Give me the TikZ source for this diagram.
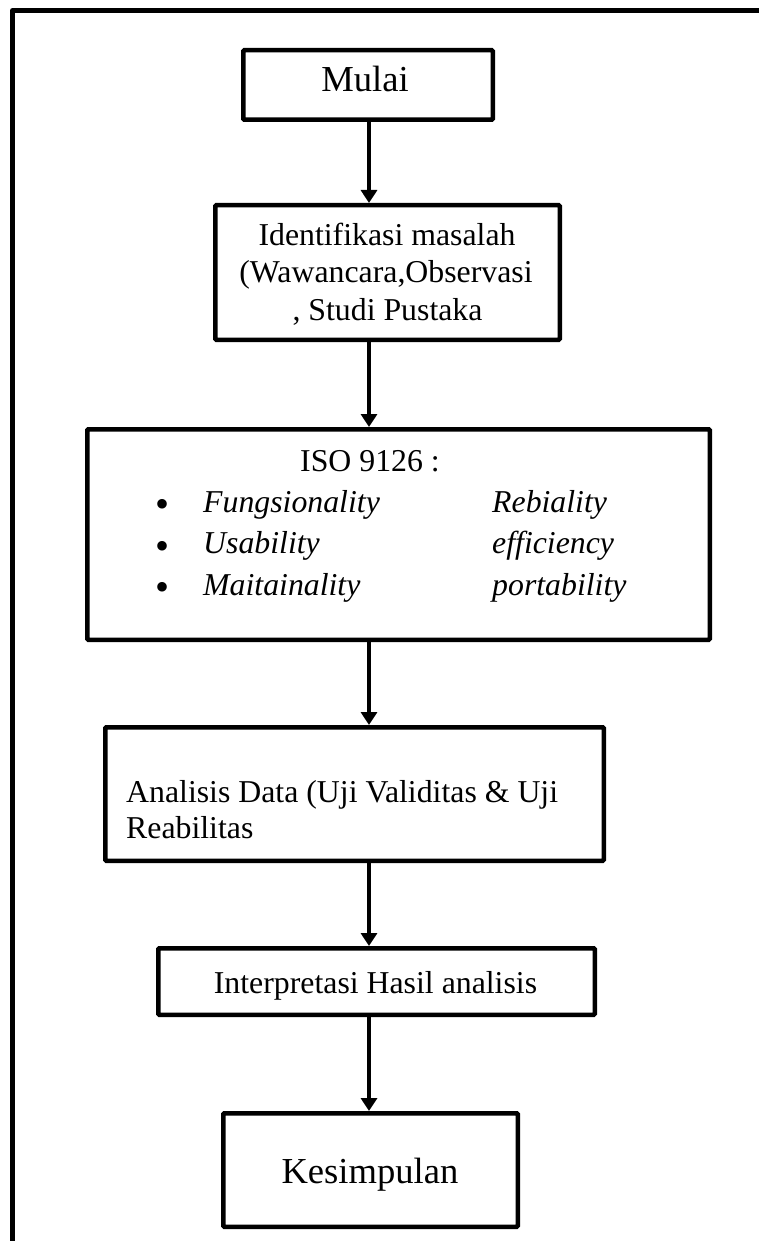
\documentclass[tikz,border=0pt]{standalone}
\usepackage{fontspec}
\setmainfont{Liberation Serif}
\usetikzlibrary{arrows.meta}
\begin{document}
\begin{tikzpicture}[x=1pt,y=-1pt,
  box/.style={draw, line width=4.5pt, rounded corners=1pt, inner sep=0pt},
  txt/.style={inner sep=0pt, font=\fontsize{31.8}{37}\selectfont},
  bigtxt/.style={inner sep=0pt, font=\fontsize{36.6}{42}\selectfont},
  item/.style={txt, anchor=base west, font=\fontsize{31.8}{37}\selectfont\itshape},
  dot/.style={inner sep=0pt, anchor=base, font=\fontsize{40}{44}\selectfont},
  arr/.style={line width=4.5pt, -{Triangle[width=16pt,length=13pt]}}]

% page area
\useasboundingbox (0,0) rectangle (759,1241);
\fill[white] (0,0) rectangle (759,1241);

% open frame along the left and top edges
\draw[line width=5pt, line join=round] (12.5,1250) -- (12.5,10.5) -- (770,10.5);

% process boxes
\node[box, minimum width=249.5pt, minimum height=69.5pt]  (mulai) at (368,85) {};
\node[box, minimum width=344.5pt, minimum height=134.5pt] (ident) at (387.5,272.5) {};
\node[box, minimum width=622.5pt, minimum height=210.5pt] (iso)   at (398.5,534.5) {};
\node[box, minimum width=498.5pt, minimum height=133.5pt] (anal)  at (354.5,794) {};
\node[box, minimum width=436.5pt, minimum height=66.5pt]  (intp)  at (376.5,981.5) {};
\node[box, minimum width=294.5pt, minimum height=113.5pt] (kes)   at (370.5,1170) {};

% texts
\node[bigtxt, anchor=base] (tMulai) at (365,92) {Mulai};

\node[txt, anchor=base] (tId1) at (387,245.5) {Identifikasi masalah};
\node[txt, anchor=base] (tId2) at (386,282.5) {(Wawancara,Observasi};
\node[txt, anchor=base] (tId3) at (387.5,320) {, Studi Pustaka};

\node[txt, anchor=base west] (tIso) at (300,471) {ISO 9126 :};
\node[dot] (b1) at (162,517) {•};
\node[dot] (b2) at (162,559) {•};
\node[dot] (b3) at (162,600) {•};
\node[item] (i1) at (203,512) {Fungsionality};
\node[item] (i2) at (203,553) {Usability};
\node[item] (i3) at (203,595) {Maitainality};
\node[item] (i4) at (492,512) {Rebiality};
\node[item] (i5) at (492,553) {efficiency};
\node[item] (i6) at (492,595) {portability};

\node[txt, anchor=base west] (tAn1) at (126,802) {Analisis Data (Uji Validitas \& Uji};
\node[txt, anchor=base west] (tAn2) at (126,838) {Reabilitas};

\node[txt, anchor=base] (tInt) at (375.5,993) {Interpretasi Hasil analisis};

\node[bigtxt, anchor=base] (tKes) at (370,1183) {Kesimpulan};

% flow arrows
\coordinate (ax) at (369,0);
\draw[arr] (mulai.south -| ax) -- (ident.north -| ax);
\draw[arr] (ident.south -| ax) -- (iso.north -| ax);
\draw[arr] (iso.south -| ax)   -- (anal.north -| ax);
\draw[arr] (anal.south -| ax)  -- (intp.north -| ax);
\draw[arr] (intp.south -| ax)  -- (kes.north -| ax);
\end{tikzpicture}
\end{document}
